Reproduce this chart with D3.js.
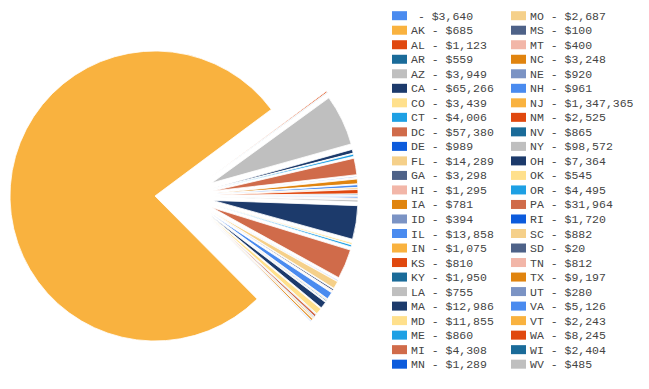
<!DOCTYPE html>
<html>
<head>
<meta charset="utf-8">
<script src="https://cdn.jsdelivr.net/npm/d3@7"></script>
<style>
  body { margin: 0; background: #fff; }
  svg { display: block; }
</style>
</head>
<body>
<div id="chart"></div>
<script>
// donations by state (first row has no state code)
const states = ["", "AK", "AL", "AR", "AZ", "CA", "CO", "CT", "DC", "DE", "FL", "GA", "HI", "IA", "ID",
  "IL", "IN", "KS", "KY", "LA", "MA", "MD", "ME", "MI", "MN", "MO", "MS", "MT", "NC", "NE", "NH",
  "NJ", "NM", "NV", "NY", "OH", "OK", "OR", "PA", "RI", "SC", "SD", "TN", "TX", "UT", "VA", "VT",
  "WA", "WI", "WV"];
const amounts = [3640, 685, 1123, 559, 3949, 65266, 3439, 4006, 57380, 989, 14289, 3298, 1295, 781, 394,
  13858, 1075, 810, 1950, 755, 12986, 11855, 860, 4308, 1289, 2687, 100, 400, 3248, 920, 961,
  1347365, 2525, 865, 98572, 7364, 545, 4495, 31964, 1720, 882, 20, 812, 9197, 280, 5126, 2243,
  8245, 2404, 485];
const palette = ["#4a8bef", "#f9b23f", "#e0480f", "#1a6b99", "#bfbfbf", "#1c3a6b", "#ffe08c", "#1ea0e4",
  "#d06b4a", "#0c5bdc", "#f5d08a", "#4e6288", "#f2b6a8", "#e0840f", "#7b93c4"];

const width = 649, height = 389;
const cx = 155, cy = 196, radius = 145, explode = 58;

const data = states.map((s, i) => ({ state: s, value: amounts[i], i }));
const color = d3.scaleOrdinal().domain(d3.range(states.length)).range(palette);
const fmt = d3.format("$,");

const svg = d3.select("#chart").append("svg")
  .attr("width", width)
  .attr("height", height);

const pie = d3.pie()
  .value(d => d.value)
  .sort(null)
  .startAngle(Math.PI / 2)
  .endAngle(Math.PI / 2 + Math.PI * 2);

const arc = d3.arc().innerRadius(0).outerRadius(radius);
const maxVal = d3.max(amounts);

const g = svg.append("g").attr("transform", `translate(${cx},${cy})`);

g.selectAll("path")
  .data(pie(data))
  .join("path")
  .attr("d", arc)
  .attr("fill", d => color(d.data.i))
  .attr("stroke", "#fff")
  .attr("stroke-width", 0.8)
  .attr("transform", d => {
    // small slices pulled out, fanned a bit tighter than their bisector
    if (d.data.value === maxVal) return null;
    let mid = (d.startAngle + d.endAngle) / 2;
    if (mid > Math.PI * 1.5) mid -= Math.PI * 2;
    const dir = Math.PI / 2 + (mid - Math.PI / 2) * 0.5;
    return `translate(${explode * Math.sin(dir)},${-explode * Math.cos(dir)})`;
  });

// legend, two columns
const rows = 25, rowH = 14.52, top0 = 15.7;
const colX = [392, 511];

const legend = svg.append("g");
const item = legend.selectAll("g")
  .data(data)
  .join("g")
  .attr("transform", (d, i) => `translate(${colX[Math.floor(i / rows)]},${top0 + (i % rows) * rowH})`);

item.append("rect")
  .attr("x", 0)
  .attr("y", -4.5)
  .attr("width", 15)
  .attr("height", 9)
  .attr("fill", d => color(d.i));

item.append("text")
  .attr("x", 19)
  .attr("y", 4)
  .attr("font-family", "'Liberation Mono', 'Courier New', monospace")
  .attr("font-size", "11.5px")
  .attr("fill", "#444")
  .style("white-space", "pre")
  .text(d => `${d.state} - ${fmt(d.value)}`);
</script>
</body>
</html>
